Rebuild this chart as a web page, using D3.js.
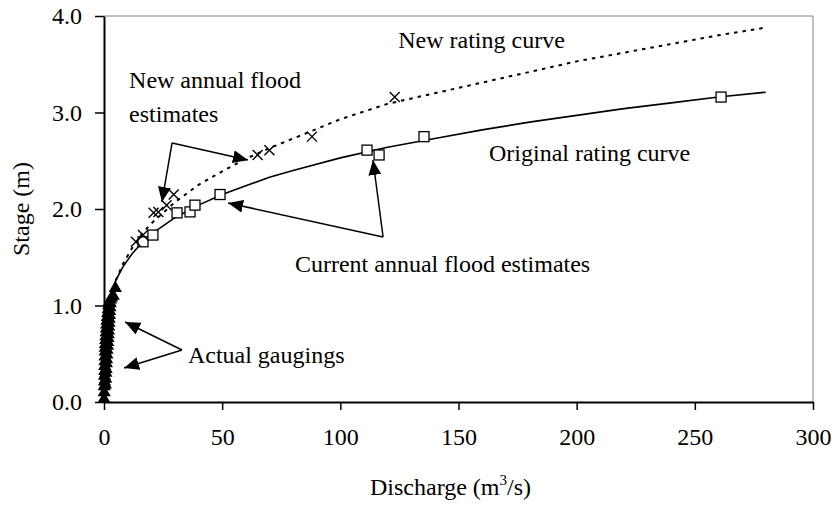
<!DOCTYPE html>
<html>
<head>
<meta charset="utf-8">
<script src="https://cdn.jsdelivr.net/npm/d3@7"></script>
<style>
  html, body { margin: 0; padding: 0; background: #fff; }
  svg text { font-family: "Liberation Serif", "Times New Roman", serif; fill: #000; }
</style>
</head>
<body>
<svg id="chart" width="837" height="521"></svg>
<script>
// Original rating curve (discharge m3/s, stage m)
const origQ = [1, 2, 3, 5, 8, 12, 16, 20, 30, 40, 50, 60, 70, 80, 100, 120, 140, 160, 180, 200, 220, 240, 260, 280];
const origH = [0.86, 1.02, 1.12, 1.26, 1.40, 1.54, 1.65, 1.74, 1.91, 2.04, 2.15, 2.24, 2.33, 2.40, 2.53, 2.64, 2.73, 2.82, 2.90, 2.97, 3.04, 3.10, 3.16, 3.21];

// New rating curve
const newQ = [5, 8, 12, 16, 20, 30, 40, 50, 60, 70, 80, 100, 120, 140, 160, 180, 200, 220, 240, 260, 280];
const newH = [1.26, 1.43, 1.60, 1.74, 1.85, 2.07, 2.25, 2.39, 2.52, 2.63, 2.73, 2.93, 3.09, 3.20, 3.31, 3.42, 3.53, 3.62, 3.71, 3.80, 3.88];

// Current annual flood estimates (on the original curve)
const currQ = [16.5, 20.7, 30.9, 36.4, 38.5, 49.1, 111.3, 116.4, 135.4, 261.1];
const currH = [1.66, 1.73, 1.96, 1.97, 2.04, 2.15, 2.61, 2.56, 2.75, 3.16];

// New annual flood estimates (on the new curve)
const newEstQ = [13.5, 16.5, 21.0, 23.0, 26.5, 29.5, 65.0, 70.0, 88.0, 123.0];
const newEstH = [1.66, 1.73, 1.96, 1.97, 2.04, 2.15, 2.56, 2.61, 2.75, 3.16];

// Actual gaugings
const gaugeQ = [0.0, 0.1, 0.1, 0.6, 0.2, 0.7, 0.2, 0.8, 0.3, 0.9, 0.3, 1.0, 0.4, 1.1, 0.4, 1.2, 0.5, 1.3, 0.5, 1.5, 0.6, 1.6, 0.7, 1.7, 0.8, 1.8, 0.9, 1.9,
                1.0, 2.0, 1.1, 2.1, 1.2, 2.2, 1.4, 2.3, 1.6, 2.4, 1.8, 2.5, 2.0, 2.6, 2.3, 2.8, 3.2, 3.9, 4.8];
const gaugeH = [0.03, 0.10, 0.16, 0.18, 0.21, 0.24, 0.27, 0.30, 0.32, 0.34, 0.37, 0.40, 0.42, 0.44, 0.47, 0.49, 0.52, 0.54, 0.56, 0.58, 0.60, 0.62, 0.64, 0.66, 0.68, 0.70, 0.72, 0.74,
                0.76, 0.78, 0.80, 0.82, 0.84, 0.86, 0.88, 0.90, 0.92, 0.94, 0.96, 0.98, 1.00, 1.02, 1.04, 1.06, 1.08, 1.10, 1.18];

// Axis ticks
const xTicks = [0, 50, 100, 150, 200, 250, 300];
const yTicks = [0, 1, 2, 3, 4];

const W = 837, H = 521;
const m = { left: 104, right: 24, top: 16, bottom: 119 };
const svg = d3.select("#chart");

const x = d3.scaleLinear().domain([0, 300]).range([m.left, W - m.right]);
const y = d3.scaleLinear().domain([0, 4]).range([H - m.bottom, m.top]);

// grey frame on top and right
svg.append("path")
  .attr("d", `M${x(0)},${y(4)}H${x(300)}V${y(0)}`)
  .attr("fill", "none").attr("stroke", "#808080").attr("stroke-width", 1);

// axes
const xAxis = svg.append("g")
  .attr("transform", `translate(0,${y(0)})`)
  .call(d3.axisBottom(x).tickValues(xTicks).tickSizeOuter(0).tickSizeInner(8).tickPadding(18).tickFormat(d3.format("d")));
const yAxis = svg.append("g")
  .attr("transform", `translate(${x(0)},0)`)
  .call(d3.axisLeft(y).tickValues(yTicks).tickSizeOuter(0).tickSizeInner(9).tickPadding(13).tickFormat(d3.format(".1f")));
[xAxis, yAxis].forEach(g => {
  g.select(".domain").attr("stroke", "#000").attr("stroke-width", 2);
  g.selectAll(".tick line").attr("stroke", "#000").attr("stroke-width", 1.5);
  g.selectAll("text").attr("font-family", "Liberation Serif, serif").attr("font-size", 24).attr("fill", "#000");
});
yAxis.selectAll("text").attr("dy", "0.33em");

// axis titles
const xt = svg.append("text")
  .attr("x", (x(0) + x(300)) / 2 - 8).attr("y", 495)
  .attr("text-anchor", "middle").attr("font-size", 24);
xt.append("tspan").text("Discharge (m");
xt.append("tspan").attr("font-size", 15).attr("dy", -10).text("3");
xt.append("tspan").attr("dy", 10).text("/s)");

svg.append("text")
  .attr("transform", `translate(29,${(y(0) + y(4)) / 2}) rotate(-90)`)
  .attr("text-anchor", "middle").attr("font-size", 24)
  .text("Stage (m)");

// curves
const line = d3.line().x(d => x(d[0])).y(d => y(d[1]));
svg.append("path")
  .datum(origQ.map((q, i) => [q, origH[i]]))
  .attr("d", line).attr("fill", "none").attr("stroke", "#000").attr("stroke-width", 1.6);
svg.append("path")
  .datum(newQ.map((q, i) => [q, newH[i]]))
  .attr("d", line).attr("fill", "none").attr("stroke", "#000").attr("stroke-width", 2)
  .attr("stroke-dasharray", "3.5,5");

// gaugings: filled triangles
const tri = d3.symbol().type(d3.symbolTriangle).size(75);
svg.append("g").selectAll("path")
  .data(gaugeQ.map((q, i) => [q, gaugeH[i]]))
  .join("path")
  .attr("transform", d => `translate(${x(d[0])},${y(d[1])})`)
  .attr("d", tri).attr("fill", "#000");

// current estimates: open squares
svg.append("g").selectAll("rect")
  .data(currQ.map((q, i) => [q, currH[i]]))
  .join("rect")
  .attr("x", d => x(d[0]) - 5).attr("y", d => y(d[1]) - 5)
  .attr("width", 10).attr("height", 10)
  .attr("fill", "#fff").attr("stroke", "#000").attr("stroke-width", 1.3);

// new estimates: crosses
svg.append("g").selectAll("path")
  .data(newEstQ.map((q, i) => [q, newEstH[i]]))
  .join("path")
  .attr("transform", d => `translate(${x(d[0])},${y(d[1])})`)
  .attr("d", "M-5,-5L5,5M-5,5L5,-5")
  .attr("stroke", "#000").attr("stroke-width", 1.4).attr("fill", "none");

// annotation arrows: [vertex, tip, tip] in data units
svg.append("defs").append("marker")
  .attr("id", "head").attr("markerUnits", "userSpaceOnUse")
  .attr("viewBox", "0 0 15 13").attr("refX", 15).attr("refY", 6.5)
  .attr("markerWidth", 15).attr("markerHeight", 13).attr("orient", "auto")
  .append("path").attr("d", "M0,0L15,6.5L0,13Z").attr("fill", "#000");

const arrows = [
  [[28.8, 2.684], [60.9, 2.508], [24.5, 2.073]],
  [[118.1, 1.71], [52.5, 2.062], [113.8, 2.508]],
  [[33.0, 0.539], [8.9, 0.829], [8.5, 0.352]]
];
arrows.forEach(a => {
  [a[1], a[2]].forEach(tip => {
    svg.append("line")
      .attr("x1", x(a[0][0])).attr("y1", y(a[0][1]))
      .attr("x2", x(tip[0])).attr("y2", y(tip[1]))
      .attr("stroke", "#000").attr("stroke-width", 1.5)
      .attr("marker-end", "url(#head)");
  });
});

// annotation labels, placed in data units
const labels = [
  ["New rating curve", 124.5, 3.668],
  ["New annual flood", 10.6, 3.254],
  ["estimates", 10.6, 2.902],
  ["Original rating curve", 162.9, 2.497],
  ["Current annual flood estimates", 80.8, 1.347],
  ["Actual gaugings", 35.5, 0.404]
];
svg.append("g").selectAll("text")
  .data(labels).join("text")
  .attr("x", d => x(d[1])).attr("y", d => y(d[2]))
  .attr("font-size", 24)
  .text(d => d[0]);
</script>
</body>
</html>
